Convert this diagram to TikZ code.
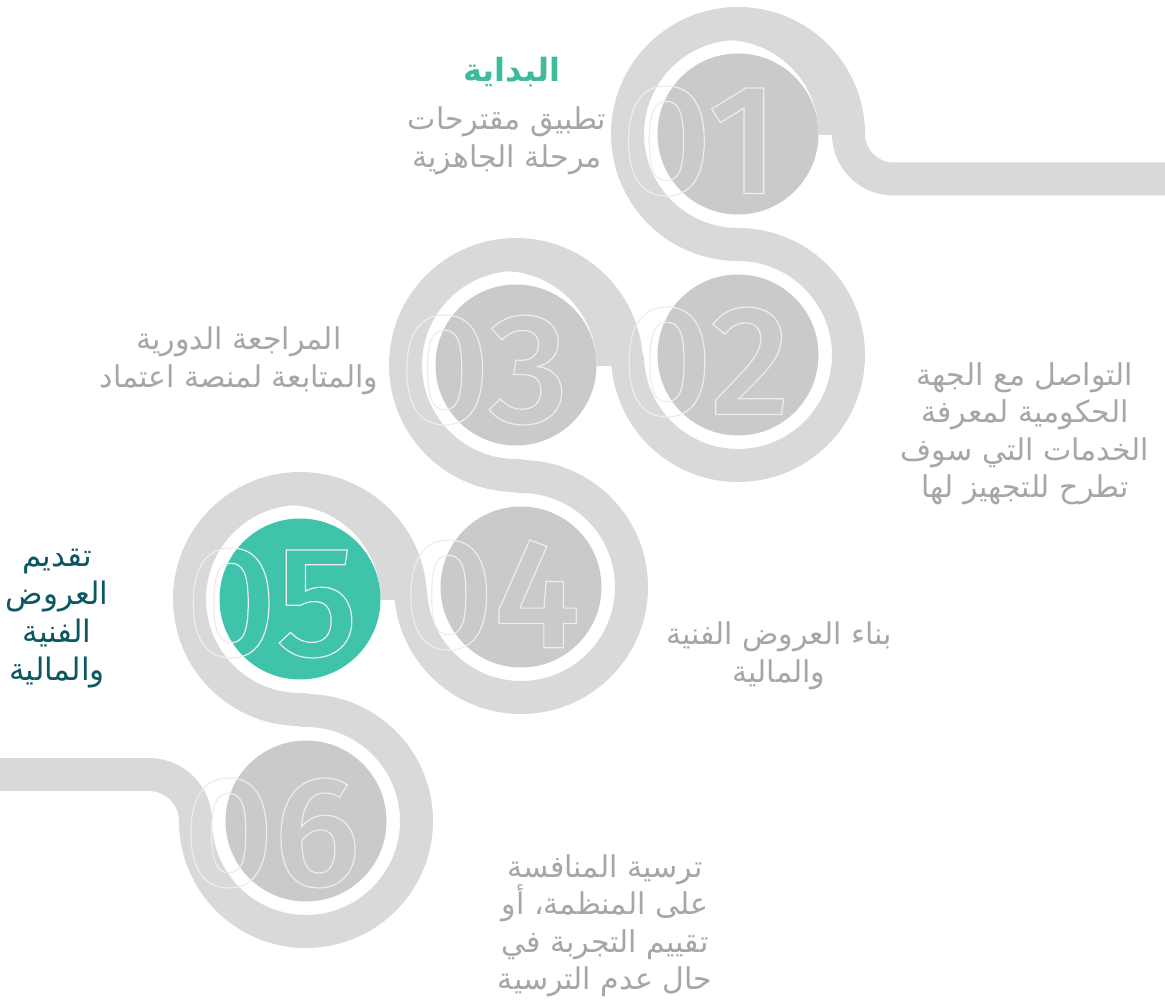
\documentclass[tikz,border=0pt]{standalone}
\usepackage{fontspec}
\usetikzlibrary{calc}
\setmainfont{DejaVu Sans}
\newfontfamily\arfont[Script=Arabic]{DejaVu Sans}
\newfontfamily\digfont{Fira Sans}[UprightFont={* Medium}]
\TeXXeTstate=1
\definecolor{bandgray}{HTML}{D9D9D9}
\definecolor{discgray}{HTML}{CACACA}
\definecolor{tealdisc}{HTML}{3FC4AB}
\definecolor{titleteal}{HTML}{3DBB9B}
\definecolor{txtgray}{HTML}{A6A6A6}
\definecolor{darkteal}{HTML}{0C5862}
\newcommand{\rtline}[1]{\beginR #1\endR}
\newcommand{\outlinetext}[1]{\special{pdf:literal direct 1 Tr 1.2 w 0.93 0.93 0.93 RG}#1\special{pdf:literal direct 0 Tr}}
\tikzset{
  road/.style={draw=bandgray, line width=33pt, line join=round},
  digits/.style={inner sep=0pt, font=\digfont\fontsize{157}{157}\selectfont, text=white},
  txt/.style={inner sep=0pt, align=center, text=txtgray, font=\arfont\fontsize{30}{37.5}\selectfont},
}
\begin{document}
\begin{tikzpicture}[x=1pt,y=-1pt]
\useasboundingbox[fill=white] (0,0) rectangle (1165,1008);
\coordinate (c1) at (738,134);
\coordinate (c2) at (738,355);
\coordinate (c3) at (516,365);
\coordinate (c4) at (521,587);
\coordinate (c5) at (300,599);
\coordinate (c6) at (306,821);
% gray patches on upper right of rings 1,3,5
\foreach \cx/\cy in {738/134, 516/365, 300/599}{
  \begin{scope}
    \clip (\cx-100,\cy-100) rectangle (\cx+100,\cy+0.5);
    \fill[bandgray] (\cx,\cy) circle[radius=94.5];
  \end{scope}
  \fill[white] (\cx-13.5,\cy) circle[radius=94];
}
% the road
\draw[road] (1170,179) -- (893.5,179)
  arc[start angle=90, end angle=180, radius=45]
  arc[start angle=0, end angle=-270, radius=110.5]
  arc[start angle=-90, end angle=177.4, radius=110.5]
  -- ($(c3)+(-2.58:110.5)$) arc[start angle=-2.58, end angle=-271.3, radius=110.5]
  -- ($(c4)+(-91.3:110.5)$) arc[start angle=-91.3, end angle=176.9, radius=110.5]
  -- ($(c5)+(-3.1:110.5)$) arc[start angle=-3.1, end angle=-271.55, radius=110.5]
  -- ($(c6)+(-91.55:110.5)$) arc[start angle=-91.55, end angle=180, radius=110.5]
  arc[start angle=0, end angle=-90, radius=46.5]
  -- (-5,774.5);
% discs
\fill[discgray] (c1) circle[radius=80.5];
\fill[discgray] (c2) circle[radius=80.5];
\fill[discgray] (c3) circle[radius=80.5];
\fill[discgray] (c4) circle[radius=80.5];
\fill[tealdisc] (c5) circle[radius=80.5];
\fill[discgray] (c6) circle[radius=80.5];
% numbers
\node[digits] (n1) at (700,141) {\outlinetext{01}};
\node[digits] (n2) at (706,362) {\outlinetext{02}};
\node[digits] (n3) at (484,370) {\outlinetext{03}};
\node[digits] (n4) at (492,595) {\outlinetext{04}};
\node[digits] (n5) at (272,603) {\outlinetext{05}};
\node[digits] (n6) at (272,833) {\outlinetext{06}};
% texts
\node[txt, text=titleteal, font=\arfont\bfseries\fontsize{32}{37.5}\selectfont] (t1) at (512,72) {\rtline{البداية}};
\node[txt] (d1) at (507,141) {\rtline{تطبيق مقترحات}\\\rtline{مرحلة الجاهزية}};
\node[txt] (d2) at (1025,434) {\rtline{التواصل مع الجهة}\\\rtline{الحكومية لمعرفة}\\\rtline{الخدمات التي سوف}\\\rtline{تطرح للتجهيز لها}};
\node[txt] (d3) at (239,361) {\rtline{المراجعة الدورية}\\\rtline{والمتابعة لمنصة اعتماد}};
\node[txt] (d4) at (779,656) {\rtline{بناء العروض الفنية}\\\rtline{والمالية}};
\node[txt, text=darkteal, font=\arfont\fontsize{31}{38}\selectfont] (d5) at (57,619) {\rtline{تقديم}\\\rtline{العروض}\\\rtline{الفنية}\\\rtline{والمالية}};
\node[txt] (d6) at (605,926) {\rtline{ترسية المنافسة}\\\rtline{على المنظمة، أو}\\\rtline{تقييم التجربة في}\\\rtline{حال عدم الترسية}};
\end{tikzpicture}
\end{document}
